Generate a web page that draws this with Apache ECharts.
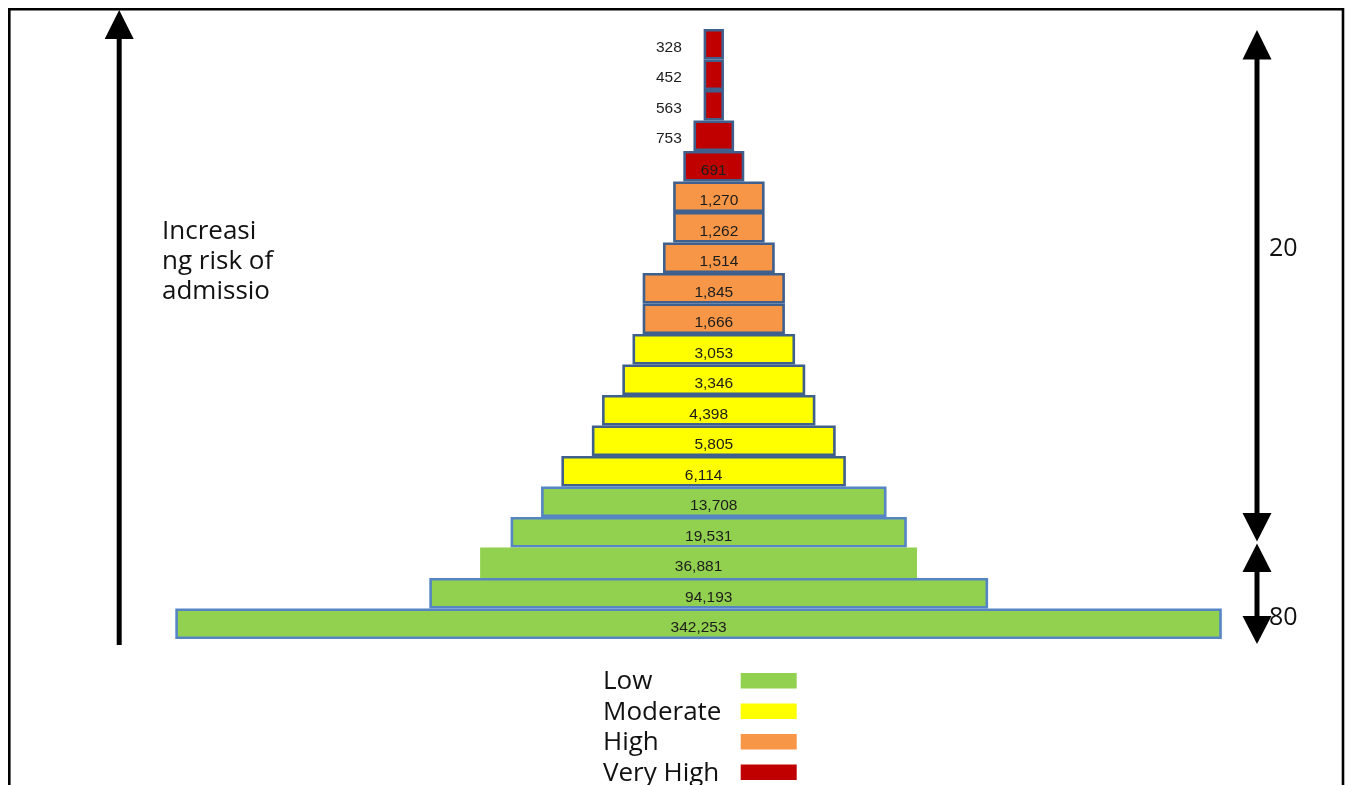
<!DOCTYPE html>
<html>
<head>
<meta charset="utf-8">
<title>Risk of admission pyramid</title>
<script src="https://cdn.jsdelivr.net/npm/echarts@6/dist/echarts.min.js"></script>
<style>
  html, body { margin: 0; padding: 0; background: #ffffff; }
  #chart { width: 1350px; height: 785px; }
</style>
</head>
<body>
<div id="chart"></div>
<script>
// Patients per risk tier, listed from the top of the pyramid down
const counts = [328, 452, 563, 753, 691, 1270, 1262, 1514, 1845, 1666,
                3053, 3346, 4398, 5805, 6114, 13708, 19531, 36881, 94193, 342253];
// Risk band of each tier: 0 = Low, 1 = Moderate, 2 = High, 3 = Very High
const riskBand = [3, 3, 3, 3, 3, 2, 2, 2, 2, 2, 1, 1, 1, 1, 1, 0, 0, 0, 0, 0];
// Pyramid step of each tier on the display scale (start and end of the block)
const stepStart = [52, 52, 52, 51, 50, 49, 49, 48, 46, 46, 45, 44, 42, 41, 38, 36, 33, 30, 25, 0];
const stepEnd   = [54, 54, 54, 55, 56, 58, 58, 59, 60, 60, 61, 62, 63, 65, 66, 70, 72, 73, 80, 103];
const scaleMax = 103;

const bandNames = ['Low', 'Moderate', 'High', 'Very High'];
const bandColors = ['#92D050', '#FFFF00', '#F79646', '#C00000'];
const shareLabels = ['20', '80'];

const fmt = new Intl.NumberFormat('en-US');
const categories = counts.map(v => fmt.format(v));

const GRID_LEFT = 175.3, GRID_WIDTH = 1046.5;
const pxPerUnit = GRID_WIDTH / scaleMax;
const outsideLabelColumn = 49.85;   // right edge of labels placed beside narrow blocks
const unframed = new Set([17]);      // the 36,881 block is drawn without an outline

const spanData = counts.map((v, i) => {
  const band = riskBand[i];
  const w = stepEnd[i] - stepStart[i];
  const item = {
    value: w,
    itemStyle: {
      color: bandColors[band],
      borderColor: band === 0 ? '#5585C4' : '#3F5F8D',
      borderWidth: unframed.has(i) ? 0 : 2.6
    }
  };
  if (w <= 4) {
    item.label = {
      position: 'left',
      distance: (stepStart[i] - outsideLabelColumn) * pxPerUnit,
      offset: [0, 3]
    };
  }
  return item;
});

const textFont = '"Open Sans", "Liberation Sans", sans-serif';

function arrowHead(x, tipY, baseY) {
  return {
    type: 'polygon',
    shape: { points: [[x, tipY], [x - 14.5, baseY], [x + 14.5, baseY]] },
    style: { fill: '#000' },
    silent: true
  };
}
function shaft(x, y1, y2) {
  return {
    type: 'line',
    shape: { x1: x, y1: y1, x2: x, y2: y2 },
    style: { stroke: '#000', lineWidth: 5 },
    silent: true
  };
}
function txt(x, y, s, size) {
  return {
    type: 'text',
    x: x, y: y,
    style: {
      text: s, fill: '#111', font: 'normal ' + size + 'px ' + textFont,
      textAlign: 'left', textVerticalAlign: 'bottom'
    },
    silent: true
  };
}

const graphics = [
  // outer frame
  { type: 'rect', shape: { x: 9.3, y: 9.3, width: 1333.7, height: 820 },
    style: { fill: 'none', stroke: '#000', lineWidth: 2.6 }, silent: true },
  // left arrow: increasing risk
  shaft(119.2, 36, 645), arrowHead(119.2, 10, 39),
  // right double arrows
  shaft(1257, 57, 515), arrowHead(1257, 30, 59.5), arrowHead(1257, 541.5, 513),
  shaft(1257, 570, 618), arrowHead(1257, 543.5, 572), arrowHead(1257, 644, 616)
];

['Increasi', 'ng risk of', 'admissio'].forEach((s, k) => {
  graphics.push(txt(162, [245, 275, 305][k], s, 26));
});
graphics.push(txt(1269, 261, shareLabels[0], 25));
graphics.push(txt(1269, 630, shareLabels[1], 25));

// legend: labels with colour swatches
const legendY = [673, 703.5, 734, 764.5];
bandNames.forEach((name, k) => {
  graphics.push(txt(603, legendY[k] + 22, name, 26));
  graphics.push({
    type: 'rect',
    shape: { x: 740.7, y: legendY[k], width: 56, height: 15.5 },
    style: { fill: bandColors[k] },
    silent: true
  });
});

const chart = echarts.init(document.getElementById('chart'), null, { renderer: 'canvas' });
chart.setOption({
  animation: false,
  backgroundColor: '#ffffff',
  grid: { left: GRID_LEFT, width: GRID_WIDTH, top: 29, bottom: 146, containLabel: false },
  xAxis: { type: 'value', min: 0, max: scaleMax, show: false },
  yAxis: { type: 'category', data: categories, inverse: true, show: false },
  series: [
    {
      name: 'base', type: 'bar', stack: 'pyramid', silent: true,
      data: stepStart, itemStyle: { color: 'rgba(0,0,0,0)' },
      barCategoryGap: '0%'
    },
    {
      name: 'tier', type: 'bar', stack: 'pyramid',
      data: spanData, barCategoryGap: '0%',
      label: {
        show: true, position: 'inside', offset: [0, 4],
        formatter: p => categories[p.dataIndex],
        color: '#1c1c1c', fontSize: 15.5,
        fontFamily: '"Liberation Sans", Arial, sans-serif'
      }
    }
  ],
  graphic: graphics
});
</script>
</body>
</html>
